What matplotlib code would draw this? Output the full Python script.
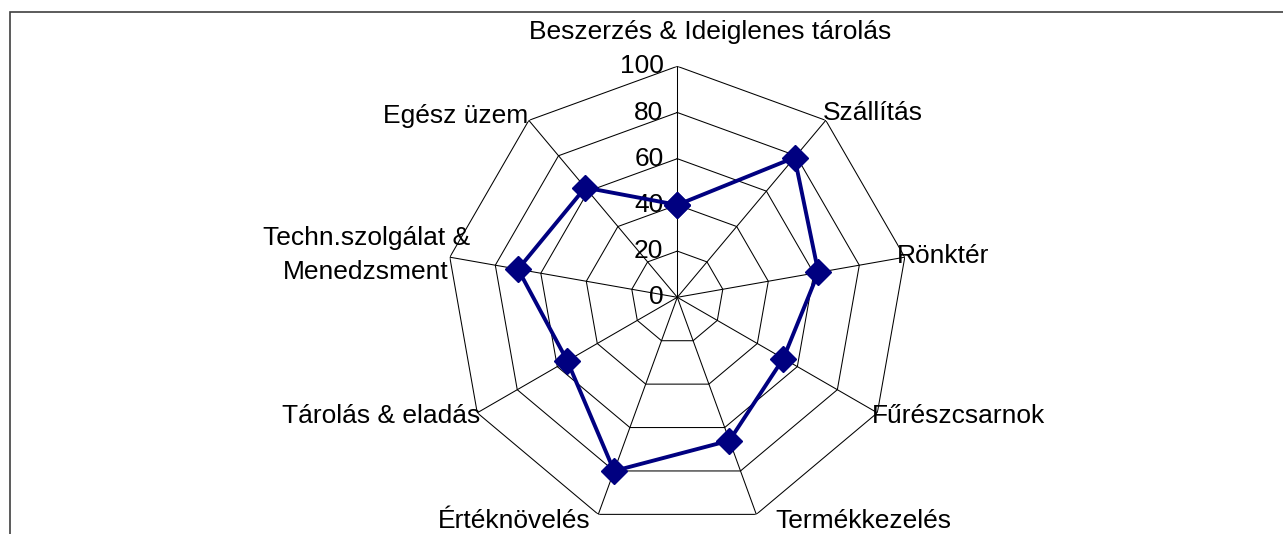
import matplotlib.pyplot as plt
import numpy as np
from matplotlib.patches import Rectangle

plt.rcParams['font.family'] = ['Liberation Sans', 'DejaVu Sans']

# data
categories = ["Beszerzés & Ideiglenes tárolás", "Szállítás", "Rönktér",
              "Fűrészcsarnok", "Termékkezelés", "Értéknövelés",
              "Tárolás & eladás", "Techn.szolgálat &\nMenedzsment", "Egész üzem"]
values = [40, 79, 62, 53, 66, 80, 55, 70, 62]
levels = [0, 20, 40, 60, 80, 100]

# label placement (alignment + offset in px from the outer vertex)
label_ha = ['center', 'left', 'left', 'left', 'left', 'right', 'right', 'right', 'right']
label_off = [(33, 34), (-3, 7), (-8, 1), (-5, -3), (19, -7), (-8, -7), (3, -3), (20, 2), (-1, 4)]

n = len(categories)
theta = np.arange(n) * 2 * np.pi / n
FS = 19

fig = plt.figure(figsize=(12.83, 5.34), dpi=100)
# outer chart frame (runs off the right and bottom of the image)
fig.patches.append(Rectangle((10 / 1283, -0.1), 1.2, 1.1 - 12 / 534, transform=fig.transFigure,
                             fill=False, edgecolor='#404040', linewidth=1.2))

cx, cy, R = 677.3 / 1283, 1 - 297.3 / 534, 231
ax = fig.add_axes([cx - R / 1283, cy - R / 534, 2 * R / 1283, 2 * R / 534], projection='polar')
ax.set_theta_offset(np.pi / 2)
ax.set_theta_direction(-1)
ax.set_ylim(0, 100)
ax.set_xticks([])
ax.set_yticks([])
ax.grid(False)
ax.spines['polar'].set_visible(False)
ax.patch.set_visible(False)

# polygon grid
th_closed = np.append(theta, theta[0])
for lv in levels[1:]:
    ax.plot(th_closed, [lv] * (n + 1), color='black', lw=0.75, zorder=1)
for t in theta:
    ax.plot([t, t], [0, 100], color='black', lw=0.75, zorder=1)

# radial tick labels
for lv in levels:
    ax.annotate(str(lv), xy=(0, lv), xytext=(-10, 0), textcoords='offset points',
                ha='right', va='center', fontsize=FS, annotation_clip=False)

# series
ax.plot(th_closed, values + values[:1], color='#000080', lw=2.8, marker='D',
        markersize=13, zorder=3, clip_on=False)

# category labels
for i, name in enumerate(categories):
    dx, dy = label_off[i]
    ax.annotate(name, xy=(theta[i], 100), xytext=(dx * 0.72, dy * 0.72), textcoords='offset points',
                ha=label_ha[i], va='center', fontsize=FS, multialignment='center',
                annotation_clip=False, linespacing=1.5)

fig.savefig('out.png', dpi=100)
